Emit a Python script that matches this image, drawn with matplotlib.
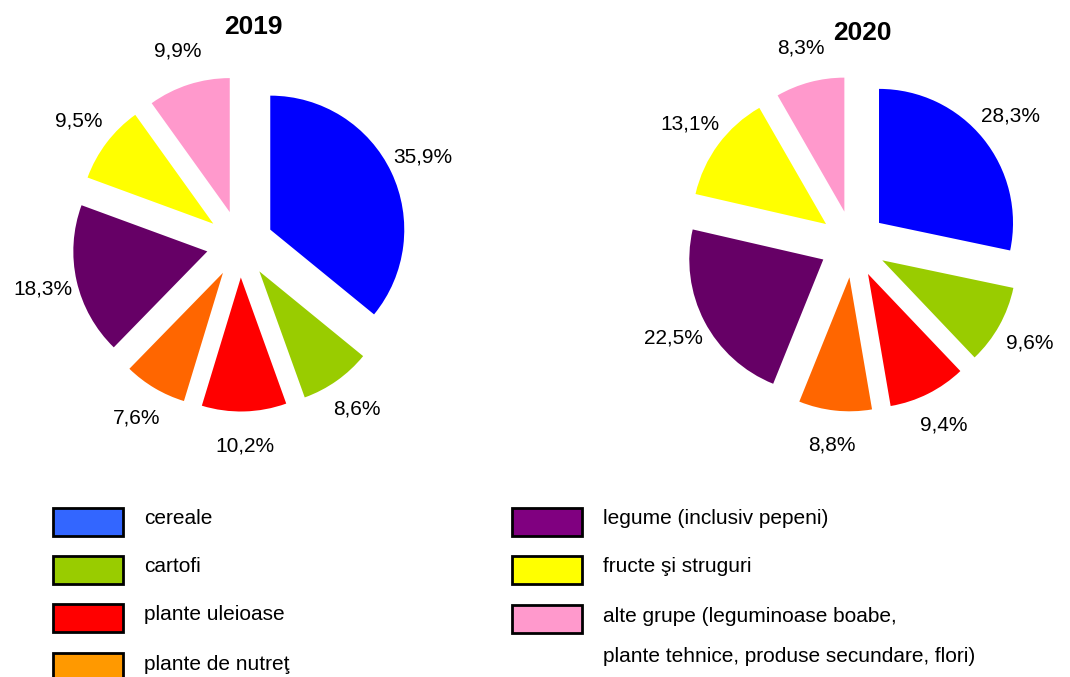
import matplotlib.pyplot as plt
from matplotlib.patches import Rectangle

plt.rcParams['font.family'] = ['Liberation Sans', 'DejaVu Sans']

# date
categorii = ['cereale', 'cartofi', 'plante uleioase', 'plante de nutreţ',
             'legume (inclusiv pepeni)', 'fructe şi struguri',
             'alte grupe (leguminoase boabe,\nplante tehnice, produse secundare, flori)']
val_2019 = [35.9, 8.6, 10.2, 7.6, 18.3, 9.5, 9.9]
val_2020 = [28.3, 9.6, 9.4, 8.8, 22.5, 13.1, 8.3]

# culori (pie si legenda sunt diferite ca in original)
culori_pie = ['#0000FF', '#99CC00', '#FF0000', '#FF6600', '#660066', '#FFFF00', '#FF99CC']
culori_leg = ['#3366FF', '#99CC00', '#FF0000', '#FF9900', '#800080', '#FFFF00', '#FF99CC']

W, H = 1070, 677
fig = plt.figure(figsize=(W / 100, H / 100), dpi=100)

R = 134      # raza in pixeli
LIM = 1.6


def pie_ax(cx, cy, valori, an, tx, ty):
    size = 2 * LIM * R
    ax = fig.add_axes([(cx - size / 2) / W, (H - cy - size / 2) / H, size / W, size / H])
    ax.pie(valori, colors=culori_pie, startangle=90, counterclock=False,
           explode=[0.25] * len(valori), radius=1,
           autopct=lambda p: f'{p:.1f}'.replace('.', ',') + '%',
           pctdistance=1.26, textprops={'fontsize': 15, 'color': 'black'})
    ax.set_xlim(-LIM, LIM)
    ax.set_ylim(-LIM, LIM)
    ax.set_aspect('equal')
    ax.axis('off')
    fig.text(tx / W, 1 - ty / H, an, ha='center', va='center',
             fontsize=19, fontweight='bold')


pie_ax(240, 244, val_2019, '2019', 253, 27)
pie_ax(853, 244, val_2020, '2020', 862, 33)

# legenda desenata manual
lg = fig.add_axes([0, 0, 1, 1])
lg.set_xlim(0, W)
lg.set_ylim(H, 0)
lg.axis('off')

poz = [(53, 522), (53, 570), (53, 618), (53, 667),
       (512, 522), (512, 570), (512, 619)]
for i in range(len(categorii)):
    x, y = poz[i]
    lg.add_patch(Rectangle((x, y - 14), 70, 28, facecolor=culori_leg[i],
                           edgecolor='black', linewidth=2))
    if '\n' in categorii[i]:
        linii = categorii[i].split('\n')
        lg.text(x + 91, y - 3, linii[0], fontsize=15, va='center')
        lg.text(x + 91, y + 38, linii[1], fontsize=15, va='center')
    else:
        lg.text(x + 91, y - 3, categorii[i], fontsize=15, va='center')

plt.savefig('out.png', dpi=100)
